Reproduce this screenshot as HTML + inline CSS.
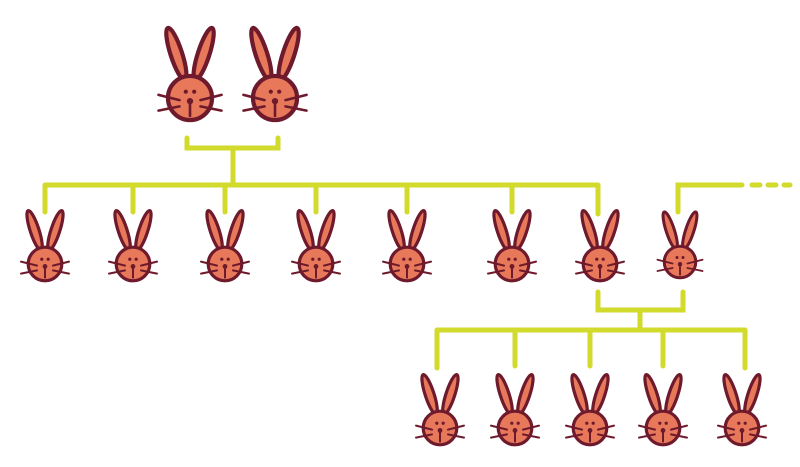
<!DOCTYPE html>
<html><head><style>body{margin:0;background:#fff}svg{display:block}</style></head><body>
<svg width="800" height="467" viewBox="0 0 800 467" xmlns="http://www.w3.org/2000/svg">
<defs>
<g id="r" stroke="#6e1a2c" stroke-linecap="round" stroke-linejoin="round">
<ellipse cx="-13" cy="-42" rx="5.5" ry="26" transform="rotate(-18 -13 -42)" fill="#e8785a" stroke-width="4"/>
<ellipse cx="13" cy="-42" rx="5.5" ry="26" transform="rotate(18 13 -42)" fill="#e8785a" stroke-width="4"/>
<circle cx="0" cy="0" r="21" fill="#e8785a" stroke-width="4"/>
<circle cx="-4" cy="-6" r="2" fill="#6e1a2c" stroke="none"/>
<circle cx="4" cy="-6" r="2" fill="#6e1a2c" stroke="none"/>
<circle cx="0" cy="3" r="3" fill="#6e1a2c" stroke="none"/>
<path d="M0 3V17M-10 2L-30 -3M-10 8L-30 12M10 2L30 -3M10 8L30 12" fill="none" stroke-width="2.5"/>
</g>
</defs>
<g fill="none" stroke="#d2da2c" stroke-width="5" stroke-linecap="round">
<path d="M187 138V148H278V138M233 148V185M45 185H598M45 185V212M133 185V212M225 185V212M316 185V212M407 185V212M512 185V212M598 185V214"/>
<path d="M678 212V185H742M752 185H760M768 185H776M784 185H790"/>
<path d="M598 292V310H683V292M640 310V330M437 330H745M437 330V368M515 330V366M590 330V366M663 330V366M745 330V368"/>
</g>
<use href="#r" transform="translate(190 98) scale(1.05)"/>
<use href="#r" transform="translate(275 98) scale(1.05)"/>
<g>
<use href="#r" transform="translate(45 264) scale(0.8)"/>
<use href="#r" transform="translate(133 264) scale(0.8)"/>
<use href="#r" transform="translate(225 264) scale(0.8)"/>
<use href="#r" transform="translate(316 264) scale(0.8)"/>
<use href="#r" transform="translate(407 264) scale(0.8)"/>
<use href="#r" transform="translate(512 264) scale(0.8)"/>
<use href="#r" transform="translate(600 264) scale(0.8)"/>
<use href="#r" transform="translate(680 262) scale(0.75)"/>
<use href="#r" transform="translate(440 428) scale(0.8)"/>
<use href="#r" transform="translate(515 428) scale(0.8)"/>
<use href="#r" transform="translate(590 428) scale(0.8)"/>
<use href="#r" transform="translate(663 428) scale(0.8)"/>
<use href="#r" transform="translate(742 428) scale(0.8)"/>
</g>
</svg>
</body></html>
